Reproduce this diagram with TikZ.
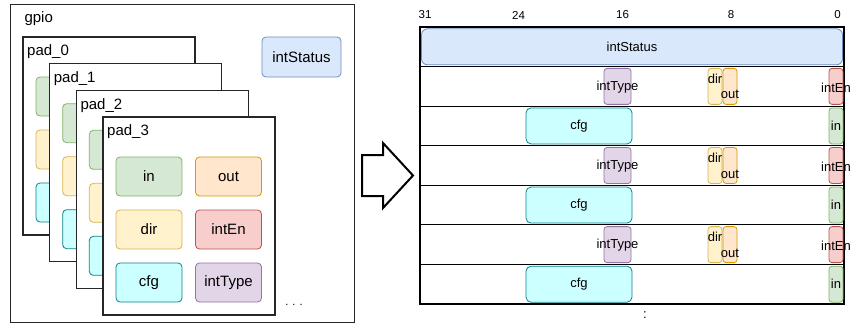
\documentclass[tikz,border=0pt]{standalone}
\usepackage{fontspec}
\setmainfont{Liberation Sans}
\definecolor{gF}{HTML}{D5E8D4}\definecolor{gD}{HTML}{82B366}
\definecolor{oF}{HTML}{FFE6CC}\definecolor{oD}{HTML}{D79B00}
\definecolor{yF}{HTML}{FFF2CC}\definecolor{yD}{HTML}{D6B656}
\definecolor{rF}{HTML}{F8CECC}\definecolor{rD}{HTML}{B85450}
\definecolor{cF}{HTML}{CCFFFF}\definecolor{cD}{HTML}{0E8088}
\definecolor{pF}{HTML}{E1D5E7}\definecolor{pD}{HTML}{9673A6}
\definecolor{bF}{HTML}{DAE8FC}\definecolor{bD}{HTML}{6C8EBF}
\begin{document}
\begin{tikzpicture}[x=1pt,y=-1pt,
  bigfont/.style={font=\fontsize{15}{18}\selectfont},
  regfont/.style={font=\fontsize{13}{15}\selectfont},
  bitfont/.style={font=\fontsize{11.5}{13}\selectfont},
  padbox/.style={draw=black!85,line width=1.1pt,fill=white,minimum width=172pt,minimum height=198pt,inner sep=0pt},
  cell/.style={draw,rounded corners=4pt,minimum width=66pt,minimum height=39pt,inner sep=0pt,line width=0.8pt,bigfont},
  fld/.style={draw,rounded corners=3pt,minimum height=36pt,inner sep=0pt,line width=0.8pt},
  regrow/.style={draw=black,line width=1.1pt,minimum width=424pt,minimum height=39.57pt,inner sep=0pt},
  cin/.style={fill=gF,draw=gD}, cout/.style={fill=oF,draw=oD}, cdir/.style={fill=yF,draw=yD},
  cen/.style={fill=rF,draw=rD}, ccfg/.style={fill=cF,draw=cD}, ctype/.style={fill=pF,draw=pD},
  cstat/.style={fill=bF,draw=bD}]
\useasboundingbox (0,0) rectangle (851,324);
% gpio container
\node[draw=black!85,line width=1pt,minimum width=344pt,minimum height=318pt,inner sep=0pt] (gpio) at (182,163.5) {};
\node[bigfont,anchor=west] (gpiolbl) at (21,19) {gpio};
\node[cell,cstat,minimum width=79pt,minimum height=40pt] (status) at (301.5,57) {intStatus};
% pads 0-2 (their cells are mostly hidden)
\foreach \i in {0,...,2}{
  \pgfmathsetmacro\L{23+26.67*\i}
  \pgfmathsetmacro\T{37+26.67*\i}
  \node[padbox] (pad\i) at (\L+86,\T+99) {};
  \node[bigfont,anchor=west,inner sep=0pt] (padlbl\i) at (\L+4,\T+15) {pad\_\i};
  \node[cell,cin]   (in\i)   at (\L+46,\T+59.5) {};
  \node[cell,cdir]  (dir\i)  at (\L+46,\T+112.5) {};
  \node[cell,ccfg]  (cfg\i)  at (\L+46,\T+165.5) {};
}
% pad 3
\node[padbox] (pad3) at (189,216) {};
\node[bigfont,anchor=west,inner sep=0pt] (padlbl3) at (107,132) {pad\_3};
\node[cell,cin]   (in3)   at (149,176.5) {in};
\node[cell,cout]  (out3)  at (228.5,176.5) {out};
\node[cell,cdir]  (dir3)  at (149,229.5) {dir};
\node[cell,cen]   (en3)   at (228.5,229.5) {intEn};
\node[cell,ccfg]  (cfg3)  at (149,282.5) {cfg};
\node[cell,ctype] (type3) at (228.5,282.5) {intType};
\node[font=\fontsize{11}{13}\selectfont] (dots) at (294,305) {. . .};
% block arrow
\draw[line width=2pt,line join=miter] (362,155) -- (383,155) -- (383,143) -- (413,175.5) -- (383,208) -- (383,196) -- (362,196) -- cycle;
% bit numbers
\node[bitfont] (b31) at (425,15) {31};
\node[bitfont] (b24) at (518.5,15) {24};
\node[bitfont] (b16) at (622.5,15) {16};
\node[bitfont] (b8) at (731,15) {8};
\node[bitfont] (b0) at (837.5,15) {0};
% register rows
\foreach \k in {0,...,6}{
  \pgfmathsetmacro\T{27+39.57*\k}
  \node[regrow] (row\k) at (632,\T+19.785) {};
}
\node[fld,cstat,rounded corners=6pt,minimum width=421pt,regfont] (st) at (632,46.8) {intStatus};
\foreach \k in {1,3,5}{
  \pgfmathsetmacro\C{27+39.57*\k+19.785}
  \node[fld,ctype,minimum width=27pt] (rt\k) at (617.5,\C) {};
  \node[regfont,inner sep=0pt] (rtl\k) at (617.5,\C+1) {intType};
  \node[fld,cdir,minimum width=14pt] (rd\k) at (715,\C) {};
  \node[fld,cout,minimum width=14pt] (ro\k) at (730,\C) {};
  \node[regfont,inner sep=0pt] (rdl\k) at (715,\C-7.5) {dir};
  \node[regfont,inner sep=0pt] (rol\k) at (730,\C+8.5) {out};
  \node[fld,cen,minimum width=14pt] (re\k) at (836,\C) {};
  \node[regfont,inner sep=0pt] (rel\k) at (836,\C+1) {intEn};
}
\foreach \k in {2,4,6}{
  \pgfmathsetmacro\C{27+39.57*\k+19.785}
  \node[fld,ccfg,minimum width=106pt,rounded corners=5pt,regfont] (rc\k) at (579,\C) {cfg};
  \node[fld,cin,minimum width=14pt,regfont] (ri\k) at (836,\C) {in};
}
\node[regfont] (colon) at (645,315) {:};
\end{tikzpicture}
\end{document}
